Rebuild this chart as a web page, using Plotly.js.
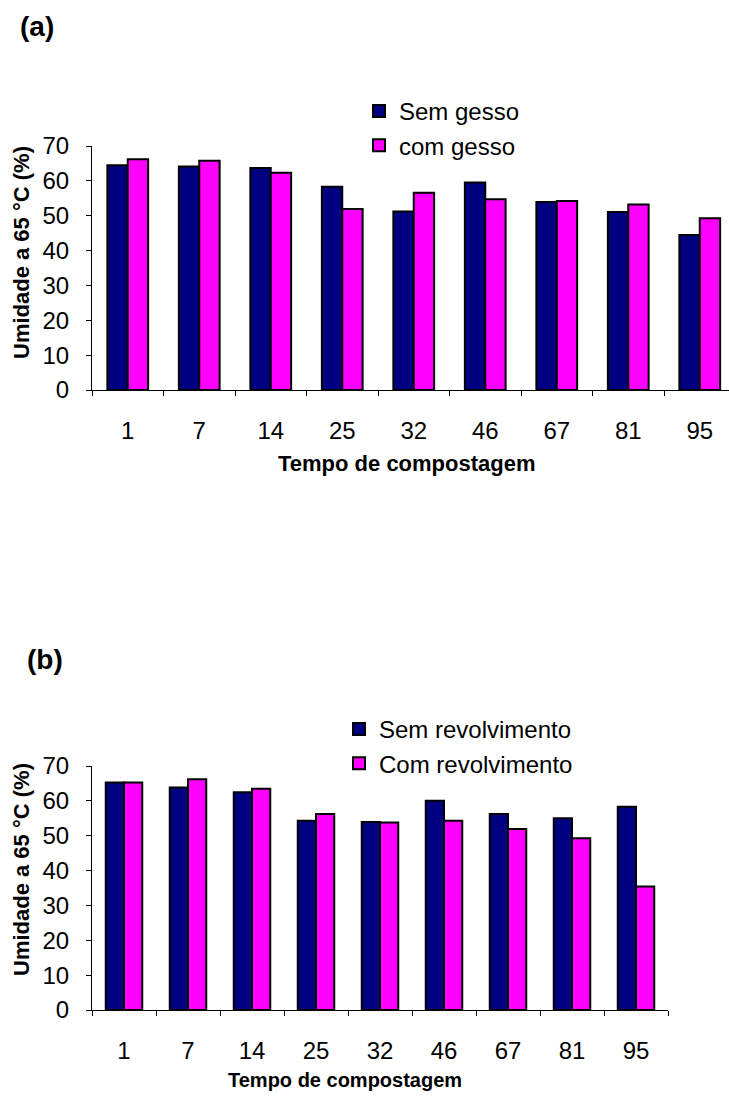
<!DOCTYPE html>
<html><head><meta charset="utf-8">
<script src="https://cdn.plot.ly/plotly-3.0.1.min.js"></script>
<style>html,body{margin:0;padding:0;background:#fff}#chart{width:729px;height:1102px}</style>
</head><body><div id="chart"></div>
<script>
// ---- data ----
const days = ['1', '7', '14', '25', '32', '46', '67', '81', '95'];
const semGesso = [64.5, 64.1, 63.7, 58.3, 51.2, 59.5, 53.9, 51.1, 44.5];
const comGesso = [66.2, 65.8, 62.3, 51.9, 56.6, 54.7, 54.2, 53.2, 49.3];
const semRevolvimento = [65.3, 63.8, 62.5, 54.3, 53.9, 60.0, 56.2, 55.0, 58.3];
const comRevolvimento = [65.3, 66.2, 63.5, 56.2, 53.8, 54.3, 51.9, 49.3, 35.4];
const seriesNamesA = ['Sem gesso', 'com gesso'];
const seriesNamesB = ['Sem revolvimento', 'Com revolvimento'];
const yTitle = 'Umidade a 65 °C (%)';
const xTitle = 'Tempo de compostagem';

// ---- layout helpers ----
const W = 729, H = 1102;
const px = v => v / W, py = v => 1 - v / H;
const FONT = 'Arial, "Liberation Sans", sans-serif';
const NAVY = '#000080', MAGENTA = '#FF00FF';

function bar(x, y, name, color, xa, ya, legend) {
  return {type: 'bar', x: x, y: y, name: name, xaxis: xa, yaxis: ya, legend: legend,
    marker: {color: color, line: {color: '#000', width: 2}}, hoverinfo: 'x+y+name'};
}
const data = [
  bar(days, semGesso, seriesNamesA[0], NAVY, 'x', 'y', 'legend'),
  bar(days, comGesso, seriesNamesA[1], MAGENTA, 'x', 'y', 'legend'),
  bar(days, semRevolvimento, seriesNamesB[0], NAVY, 'x2', 'y2', 'legend2'),
  bar(days, comRevolvimento, seriesNamesB[1], MAGENTA, 'x2', 'y2', 'legend2')
];

const common = {showline: true, linecolor: '#000', linewidth: 1, ticks: 'outside', ticklen: 5,
  tickcolor: '#000', tickwidth: 1, showgrid: false, zeroline: false, fixedrange: true,
  tickfont: {family: FONT, size: 24, color: '#000'}};
const xc = Object.assign({}, common, {type: 'category', tickson: 'boundaries', ticklabelstandoff: 19});
const yc = Object.assign({}, common, {range: [0, 70], tick0: 0, dtick: 10, ticklabelstandoff: 12});

const layout = {
  width: W, height: H, margin: {l: 0, r: 0, t: 0, b: 0},
  paper_bgcolor: '#fff', plot_bgcolor: 'rgba(0,0,0,0)',
  font: {family: FONT, color: '#000'},
  barmode: 'group', bargap: 0.43, bargroupgap: 0,
  xaxis: Object.assign({}, xc, {domain: [px(92), 1], range: [-0.5, -0.5 + (729 - 92) / 71.5], anchor: 'y'}),
  yaxis: Object.assign({}, yc, {domain: [py(390), py(146)], anchor: 'x'}),
  xaxis2: Object.assign({}, xc, {domain: [px(92), px(668)], range: [-0.5, 8.5], anchor: 'y2'}),
  yaxis2: Object.assign({}, yc, {domain: [py(1010), py(766)], anchor: 'x2'}),
  legend: {x: px(359), y: py(89), xanchor: 'left', yanchor: 'top', bgcolor: 'rgba(0,0,0,0)',
    font: {family: FONT, size: 24, color: '#000'}, traceorder: 'normal'},
  legend2: {x: px(339), y: py(707), xanchor: 'left', yanchor: 'top', bgcolor: 'rgba(0,0,0,0)',
    font: {family: FONT, size: 24, color: '#000'}, traceorder: 'normal'},
  annotations: [
    {text: '<b>(a)</b>', xref: 'paper', yref: 'paper', x: px(37), y: py(27), showarrow: false,
      xanchor: 'center', yanchor: 'middle', font: {family: FONT, size: 28}},
    {text: '<b>(b)</b>', xref: 'paper', yref: 'paper', x: px(45), y: py(659), showarrow: false,
      xanchor: 'center', yanchor: 'middle', font: {family: FONT, size: 28}},
    {text: '<b>' + xTitle + '</b>', xref: 'paper', yref: 'paper', x: px(407), y: py(463), showarrow: false,
      xanchor: 'center', yanchor: 'middle', font: {family: FONT, size: 22}},
    {text: '<b>' + xTitle + '</b>', xref: 'paper', yref: 'paper', x: px(345), y: py(1080), showarrow: false,
      xanchor: 'center', yanchor: 'middle', font: {family: FONT, size: 20}},
    {text: '<b>' + yTitle + '</b>', xref: 'paper', yref: 'paper', x: px(21), y: py(253), showarrow: false,
      textangle: -90, xanchor: 'center', yanchor: 'middle', font: {family: FONT, size: 22}},
    {text: '<b>' + yTitle + '</b>', xref: 'paper', yref: 'paper', x: px(21), y: py(870), showarrow: false,
      textangle: -90, xanchor: 'center', yanchor: 'middle', font: {family: FONT, size: 22}}
  ]
};
Plotly.newPlot('chart', data, layout, {displayModeBar: false, staticPlot: true});
</script></body></html>
